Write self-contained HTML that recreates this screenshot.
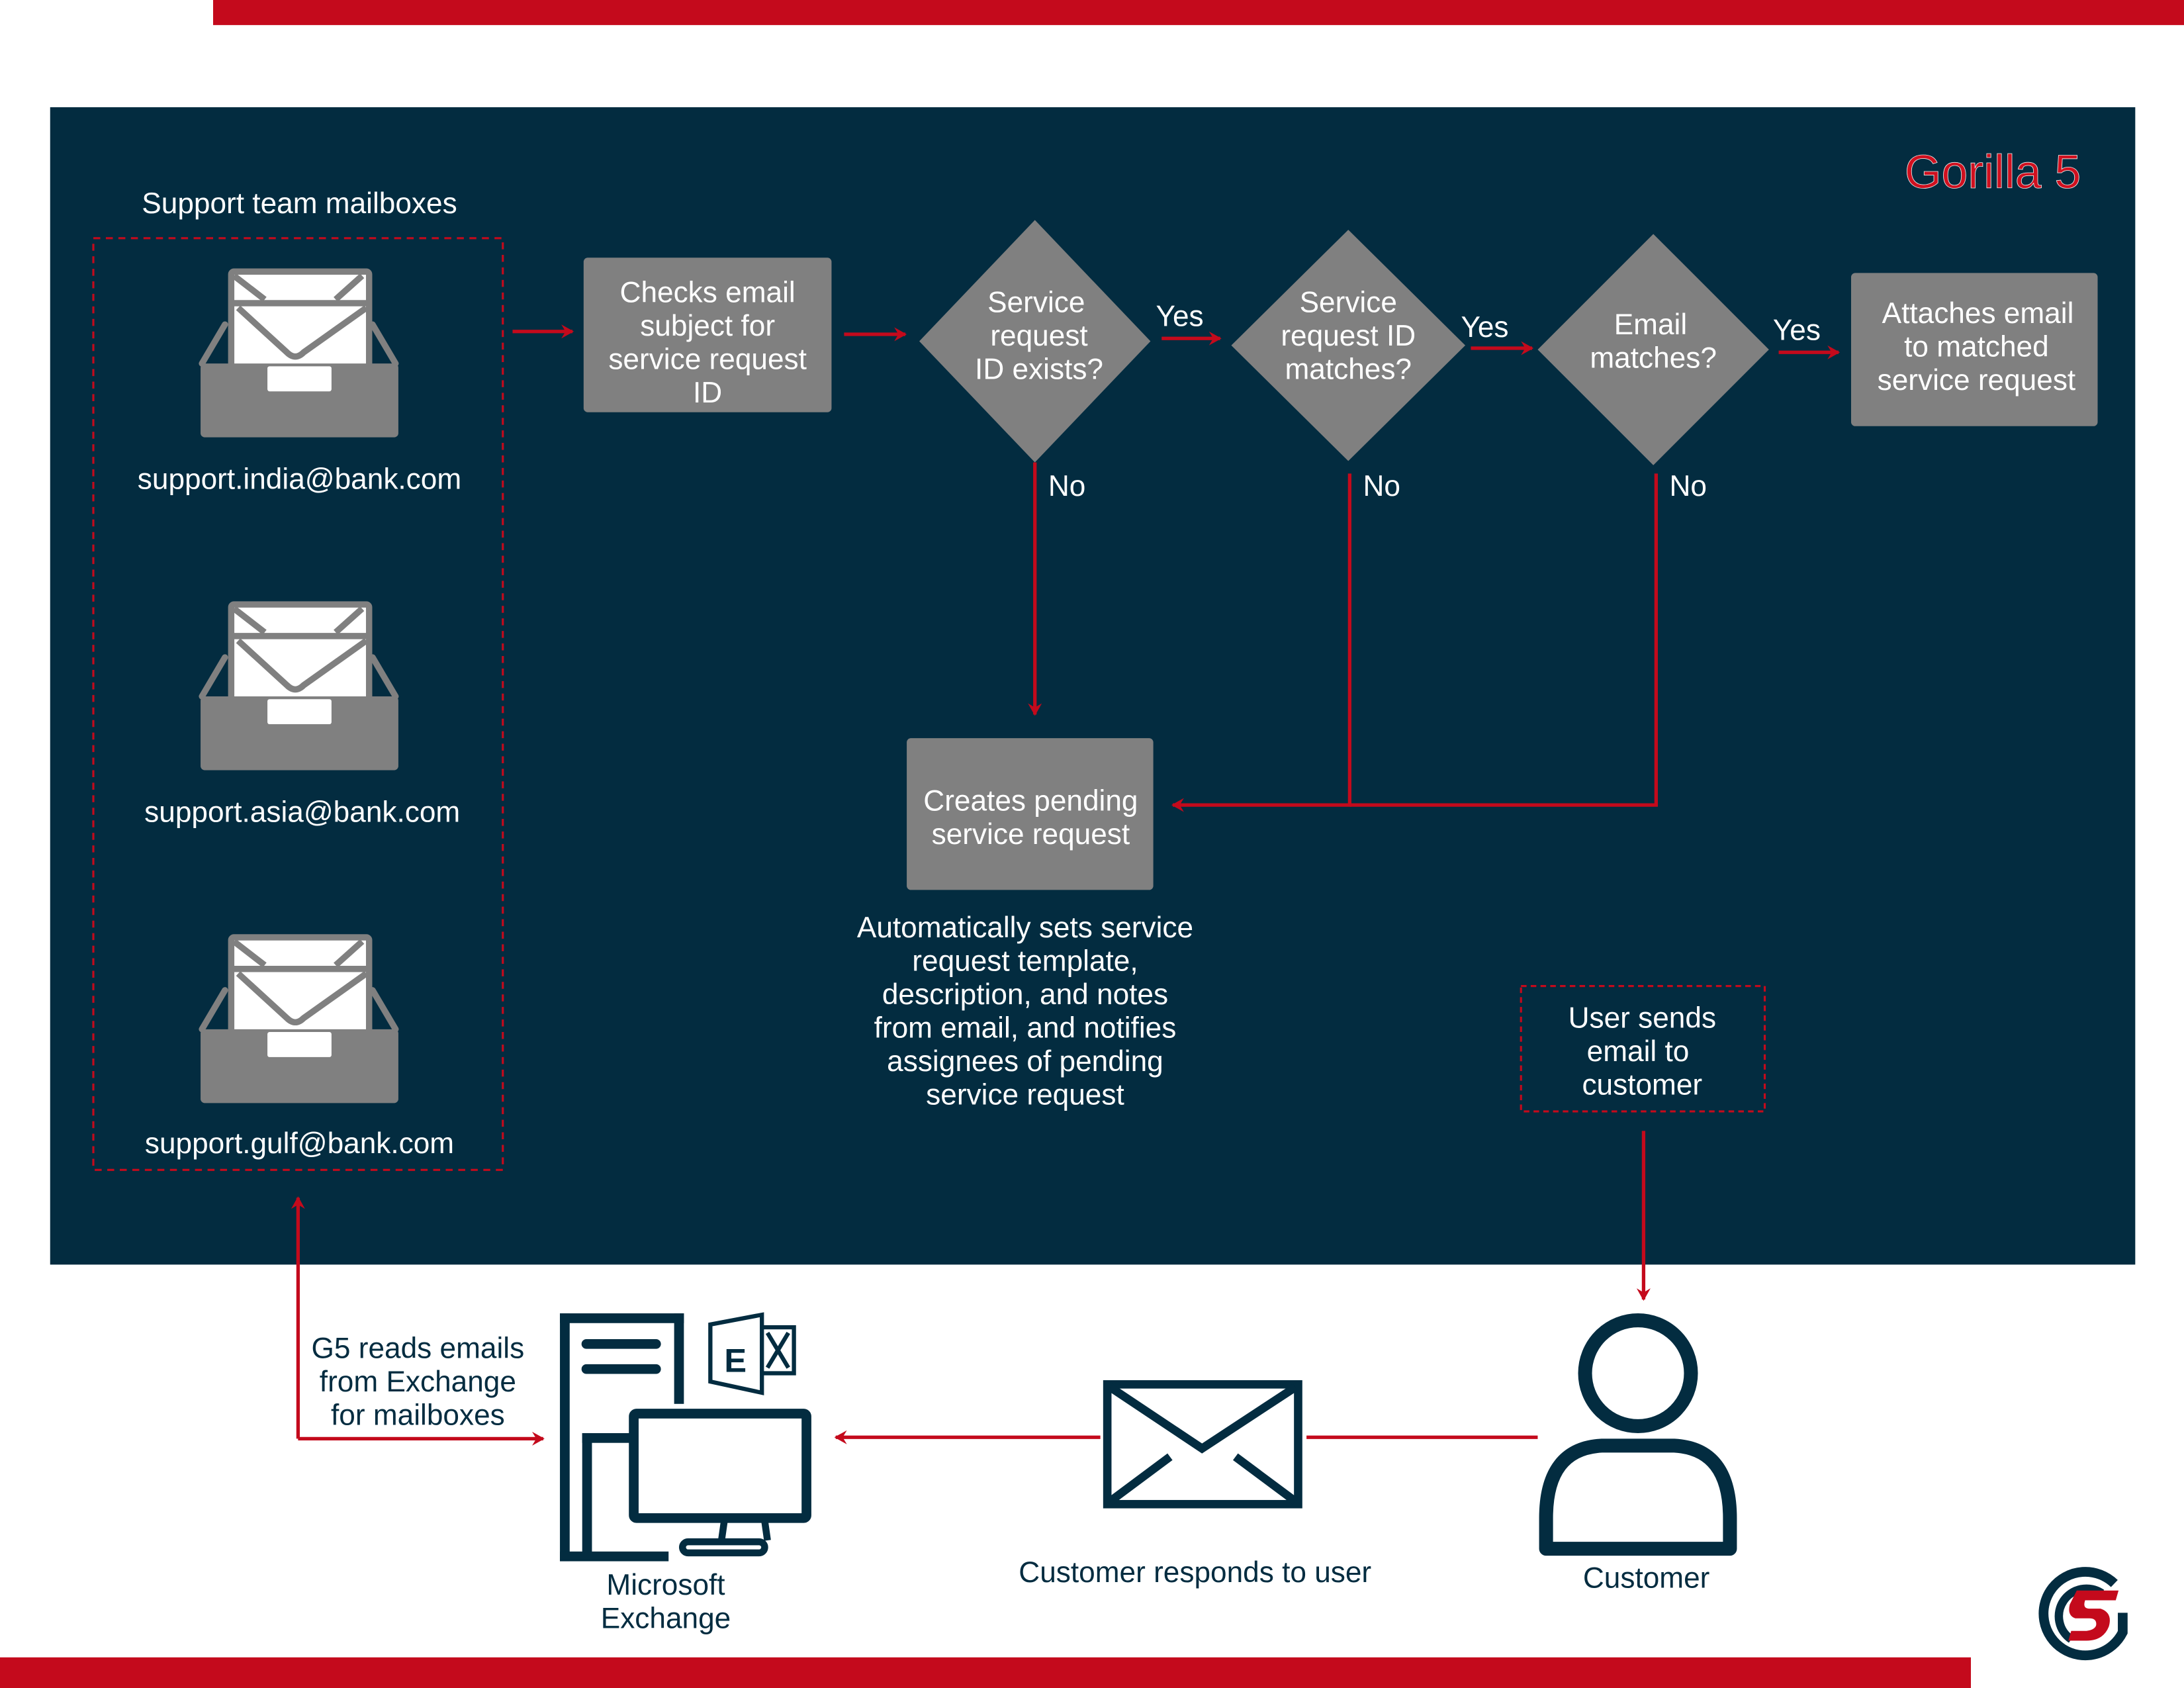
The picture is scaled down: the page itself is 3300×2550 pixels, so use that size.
<!DOCTYPE html>
<html><head><meta charset="utf-8"><style>
html,body{margin:0;padding:0;background:#fff;}
svg{display:block;}
text{font-family:"Liberation Sans",sans-serif;}
</style></head><body>
<svg width="3300" height="2550" viewBox="0 0 1568 1212" preserveAspectRatio="none" xmlns="http://www.w3.org/2000/svg">
<defs>
<marker id="ar" markerWidth="10" markerHeight="10" refX="8" refY="5" orient="auto" markerUnits="userSpaceOnUse">
<path d="M0,0 L9,5 L0,10 L3,5 Z" fill="#c40a1c"/></marker>
<g id="mb">
<path d="M18.5,40 L2,68 M124.5,40 L141,68" stroke="#808080" stroke-width="4.5" stroke-linecap="round"/>
<rect x="23" y="2" width="99" height="70" rx="2" fill="#fff" stroke="#808080" stroke-width="4.5"/>
<path d="M25,5 L47,22 M117,5 L98,22" stroke="#808080" stroke-width="4.5"/>
<line x1="22" y1="24.7" x2="123" y2="24.7" stroke="#808080" stroke-width="4.5"/>
<path d="M28,28 L63,60 Q69,66 75,60 L120,28" fill="none" stroke="#808080" stroke-width="4.5"/>
<rect x="1" y="68" width="142" height="53" rx="3" fill="#808080"/>
<rect x="49" y="70" width="46" height="18" rx="1.5" fill="#fff"/>
</g>
</defs>
<rect x="153" y="0" width="1415" height="18" fill="#c40a1c"/>
<rect x="36" y="77" width="1497" height="831" fill="#032c40"/>
<rect x="0" y="1190" width="1415" height="22" fill="#c40a1c"/>

<text x="1494" y="135" text-anchor="end" font-size="34" fill="#d0101f" stroke="#e8e8e8" stroke-width="0.4">Gorilla 5</text>
<text x="215" y="153" text-anchor="middle" font-size="21" fill="#fff">Support team mailboxes</text>
<rect x="67" y="171" width="294" height="669" fill="none" stroke="#c40a1c" stroke-width="1.5" stroke-dasharray="5,4"/>
<use href="#mb" x="143" y="193"/>
<use href="#mb" x="143" y="432"/>
<use href="#mb" x="143" y="671"/>
<g font-size="21" fill="#fff" text-anchor="middle">
<text x="215" y="351">support.india@bank.com</text>
<text x="217" y="590">support.asia@bank.com</text>
<text x="215" y="828">support.gulf@bank.com</text>
</g>

<g stroke="#c40a1c" stroke-width="2.5" fill="none" marker-end="url(#ar)">
<line x1="368" y1="238" x2="411" y2="238"/>
<line x1="606" y1="240" x2="650" y2="240"/>
<line x1="834" y1="243" x2="876" y2="243"/>
<line x1="1056" y1="250" x2="1100" y2="250"/>
<line x1="1277" y1="253" x2="1320" y2="253"/>
<line x1="743" y1="332" x2="743" y2="513"/>
<polyline points="969,340 969,578 842,578"/>
<line x1="1180" y1="812" x2="1180" y2="933"/>
<polyline points="214,1033 214,860"/>
<line x1="790" y1="1032" x2="600" y2="1032"/>
</g>
<g stroke="#c40a1c" stroke-width="2.5" fill="none">
<polyline points="1189,340 1189,578 969,578"/>
<line x1="938" y1="1032" x2="1104" y2="1032"/>
<line x1="214" y1="1033" x2="390" y2="1033" marker-end="url(#ar)"/>
</g>

<g fill="#808080">
<rect x="419" y="185" width="178" height="111" rx="3"/>
<polygon points="743,158 826,245 743,332 660,245"/>
<polygon points="968,165 1052,248 968,331 884,248"/>
<polygon points="1187,168 1270,251 1187,334 1104,251"/>
<rect x="1329" y="196" width="177" height="110" rx="3"/>
<rect x="651" y="530" width="177" height="109" rx="3"/>
</g>
<g font-size="21" fill="#fff" text-anchor="middle">
<text x="508" y="217">Checks email</text><text x="508" y="241">subject for</text><text x="508" y="265">service request</text><text x="508" y="289">ID</text>
<text x="744" y="224">Service</text><text x="746" y="248">request</text><text x="746" y="272">ID exists?</text>
<text x="968" y="224">Service</text><text x="968" y="248">request ID</text><text x="968" y="272">matches?</text>
<text x="1185" y="240">Email</text><text x="1187" y="264">matches?</text>
<text x="1420" y="232">Attaches email</text><text x="1419" y="256">to matched</text><text x="1419" y="280">service request</text>
<text x="740" y="582">Creates pending</text><text x="740" y="606">service request</text>
<text x="847" y="234">Yes</text><text x="1066" y="242">Yes</text><text x="1290" y="244">Yes</text>
<text x="766" y="356">No</text><text x="992" y="356">No</text><text x="1212" y="356">No</text>
<text x="736" y="673">Automatically sets service</text>
<text x="736" y="697">request template,</text>
<text x="736" y="721">description, and notes</text>
<text x="736" y="745">from email, and notifies</text>
<text x="736" y="769">assignees of pending</text>
<text x="736" y="793">service request</text>
<text x="1179" y="738">User sends</text><text x="1176" y="762">email to</text><text x="1179" y="786">customer</text>
</g>
<rect x="1092" y="708" width="175" height="90" fill="none" stroke="#c40a1c" stroke-width="1.5" stroke-dasharray="4,3"/>

<g font-size="21" fill="#032c40" text-anchor="middle">
<text x="300" y="975">G5 reads emails</text><text x="300" y="999">from Exchange</text><text x="300" y="1023">for mailboxes</text>
<text x="478" y="1145">Microsoft</text><text x="478" y="1169">Exchange</text>
<text x="858" y="1136">Customer responds to user</text>
<text x="1182" y="1140">Customer</text>
</g>

<!-- exchange icon -->
<g stroke="#032c40" fill="none" stroke-width="7">
<line x1="421" y1="965" x2="471" y2="965" stroke-linecap="round"/>
<line x1="421" y1="983" x2="471" y2="983" stroke-linecap="round"/>
<rect x="455" y="1015" width="124" height="75" rx="2" fill="#fff"/>
<path d="M520,1092 L518,1106 M549,1092 L551,1106" stroke-width="5"/>
<rect x="490" y="1107" width="59" height="8" rx="4" stroke-width="5"/>
</g>
<rect x="402" y="943" width="89" height="7" fill="#032c40"/>
<rect x="402" y="943" width="7" height="178" fill="#032c40"/>
<rect x="484" y="943" width="7" height="65" fill="#032c40"/>
<rect x="402" y="1114" width="78" height="7" fill="#032c40"/>
<rect x="418" y="1029" width="7" height="90" fill="#032c40"/>
<rect x="418" y="1029" width="34" height="7" fill="#032c40"/>
<g stroke="#032c40" stroke-width="3" fill="#fff">
<rect x="536" y="953" width="34" height="33"/>
<polygon points="510,951 547,944 547,1000 510,992"/>
</g>
<text x="528" y="985" text-anchor="middle" font-size="24" font-weight="bold" fill="#032c40">E</text>
<path d="M551,957 L566,982 M566,957 L551,982" stroke="#032c40" stroke-width="3"/>

<!-- envelope -->
<rect x="795" y="994" width="137" height="86" fill="#fff" stroke="#032c40" stroke-width="6"/>
<path d="M797,996 L863,1040 L930,996 M797,1078 L840,1046 M930,1078 L887,1046" fill="none" stroke="#032c40" stroke-width="6"/>

<!-- person -->
<circle cx="1176" cy="986" r="38" fill="none" stroke="#032c40" stroke-width="10"/>
<path d="M1110,1112 L1110,1090 Q1110,1040 1150,1038 L1202,1038 Q1242,1040 1242,1090 L1242,1112 Z" fill="none" stroke="#032c40" stroke-width="10" stroke-linejoin="round"/>

<!-- logo -->
<path d="M1518,1137 A30,30 0 1 0 1524,1172 L1524,1158" fill="none" stroke="#032c40" stroke-width="7"/>
<path d="M1509,1144 A18,18 0 1 0 1487,1177" fill="none" stroke="#032c40" stroke-width="6"/>
<path d="M1491,1142 L1521,1142 L1519,1149 L1497,1149 Q1495,1155 1500,1155 L1508,1155 Q1517,1158 1514,1168 Q1510,1178 1498,1178 L1485,1178 L1487,1171 L1498,1171 Q1505,1170 1505,1166 Q1505,1162 1500,1162 L1490,1162 Q1484,1160 1486,1152 Z" fill="#c40a1c"/>
</svg>
</body></html>
